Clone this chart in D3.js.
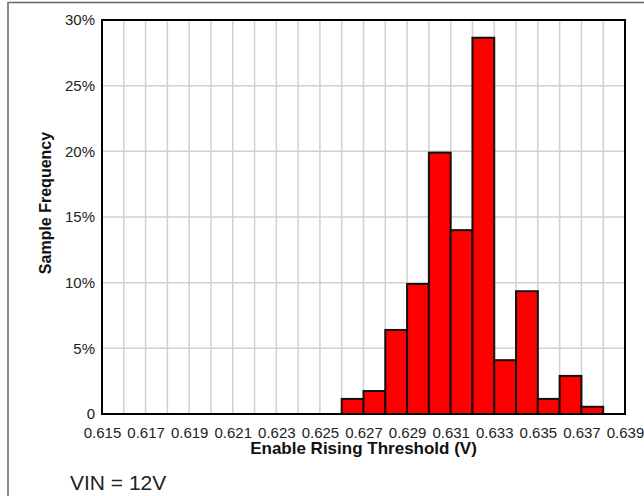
<!DOCTYPE html>
<html>
<head>
<meta charset="utf-8">
<script src="https://cdn.jsdelivr.net/npm/d3@7/dist/d3.min.js"></script>
<style>
  html, body { margin: 0; padding: 0; background: #fff; }
  svg { display: block; font-family: Arial, "Liberation Sans", sans-serif; }
</style>
</head>
<body>
<svg id="chart" width="644" height="496"></svg>
<script>
// Histogram bins: left edge of each 1 mV bin (V) and share of samples (%)
const binStarts = [0.626, 0.627, 0.628, 0.629, 0.630, 0.631, 0.632, 0.633, 0.634, 0.635, 0.636, 0.637];
const frequency = [1.15, 1.75, 6.4, 9.9, 19.9, 14.0, 28.65, 4.1, 9.35, 1.15, 2.9, 0.55];
const binWidth = 0.001;

// Axis ticks
const xGridTicks = d3.range(0, 25).map(i => +(0.615 + i * 0.001).toFixed(3));
const xLabelTicks = [0.615, 0.617, 0.619, 0.621, 0.623, 0.625, 0.627, 0.629, 0.631, 0.633, 0.635, 0.637, 0.639];
const yTicks = [0, 5, 10, 15, 20, 25, 30];

const xTitle = "Enable Rising Threshold (V)";
const yTitle = "Sample Frequency";
const note = "VIN = 12V";

const svg = d3.select("#chart");
const m = { left: 102, right: 625, top: 20, bottom: 414 };
const font = "Arial, 'Liberation Sans', sans-serif";

const x = d3.scaleLinear().domain([0.615, 0.639]).range([m.left, m.right]);
const y = d3.scaleLinear().domain([0, 30]).range([m.bottom, m.top]);

// Outer figure frame (top and left edges)
svg.append("path")
  .attr("d", "M8,496V2.5H644")
  .attr("fill", "none")
  .attr("stroke", "#666")
  .attr("stroke-width", 1.5);

// Grid
const grid = svg.append("g").attr("stroke", "#d0d0d0").attr("stroke-width", 1.5);
grid.selectAll("line.v").data(xGridTicks.slice(1, -1)).join("line")
  .attr("x1", d => x(d)).attr("x2", d => x(d))
  .attr("y1", m.top).attr("y2", m.bottom);
grid.selectAll("line.h").data(yTicks.slice(1, -1)).join("line")
  .attr("x1", m.left).attr("x2", m.right)
  .attr("y1", d => y(d)).attr("y2", d => y(d));

// Bars
svg.append("g").selectAll("rect").data(binStarts).join("rect")
  .attr("x", (d) => x(d))
  .attr("width", (d) => x(d + binWidth) - x(d))
  .attr("y", (d, i) => y(frequency[i]))
  .attr("height", (d, i) => y(0) - y(frequency[i]))
  .attr("fill", "#ff0000")
  .attr("stroke", "#111")
  .attr("stroke-width", 2);

// Plot border
svg.append("rect")
  .attr("x", m.left).attr("y", m.top)
  .attr("width", m.right - m.left).attr("height", m.bottom - m.top)
  .attr("fill", "none").attr("stroke", "#000").attr("stroke-width", 2);

// X axis labels
const xAxis = d3.axisBottom(x).tickValues(xLabelTicks).tickSize(0).tickPadding(13)
  .tickFormat(d3.format(".3f"));
svg.append("g").attr("transform", `translate(0,${m.bottom})`).call(xAxis)
  .call(g => g.select(".domain").remove())
  .call(g => g.selectAll("text").attr("font-size", 15).attr("font-family", font).attr("fill", "#222"));

// Y axis labels
const yAxis = d3.axisLeft(y).tickValues(yTicks).tickSize(0).tickPadding(7)
  .tickFormat(d => d === 0 ? "0" : d + "%");
svg.append("g").attr("transform", `translate(${m.left},0)`).call(yAxis)
  .call(g => g.select(".domain").remove())
  .call(g => g.selectAll("text").attr("font-size", 15).attr("font-family", font).attr("fill", "#222"));

// Axis titles
svg.append("text")
  .attr("x", (m.left + m.right) / 2).attr("y", 454)
  .attr("text-anchor", "middle").attr("font-size", 17).attr("font-weight", "bold")
  .attr("fill", "#111")
  .text(xTitle);

svg.append("text")
  .attr("transform", "translate(51,203) rotate(-90)")
  .attr("text-anchor", "middle").attr("font-size", 16).attr("font-weight", "bold")
  .attr("fill", "#111")
  .text(yTitle);

// Operating condition note
svg.append("text")
  .attr("x", 70).attr("y", 490)
  .attr("font-size", 21).attr("fill", "#222")
  .text(note);
</script>
</body>
</html>
